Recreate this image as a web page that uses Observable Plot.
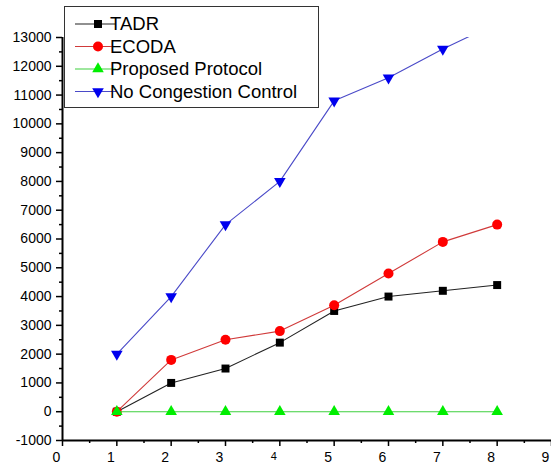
<!DOCTYPE html>
<html>
<head>
<meta charset="utf-8">
<script src="https://cdn.jsdelivr.net/npm/d3@7"></script>
<script src="https://cdn.jsdelivr.net/npm/@observablehq/plot@0.6"></script>
<style>
  body { margin: 0; background: #fff; }
  #wrap { position: relative; width: 551px; height: 471px; font-family: "Liberation Sans", Arial, sans-serif; }
  #legend { position: absolute; left: 64px; top: 6px; }
</style>
</head>
<body>
<div id="wrap"></div>
<script>
// ---- data ----
const xValues = [1, 2, 3, 4, 5, 6, 7, 8];
const tadr = [0, 1000, 1500, 2400, 3500, 4000, 4200, 4400];
const ecoda = [0, 1800, 2500, 2800, 3700, 4800, 5900, 6500];
const proposed = [0, 0, 0, 0, 0, 0, 0, 0];
const noCongestion = [2000, 4000, 6500, 8000, 10800, 11600, 12600, 13500];
const seriesNames = ["TADR", "ECODA", "Proposed Protocol", "No Congestion Control"];
const xTicks = [0, 1, 2, 3, 4, 5, 6, 7, 8, 9];
const yTicks = [-1000, 0, 1000, 2000, 3000, 4000, 5000, 6000, 7000, 8000, 9000, 10000, 11000, 12000, 13000];

// ---- styles ----
const triangleDown = {
  draw(context, size) {
    const y = -Math.sqrt(size / (Math.sqrt(3) * 3));
    context.moveTo(0, -y * 2);
    context.lineTo(Math.sqrt(3) * y, y);
    context.lineTo(-Math.sqrt(3) * y, y);
    context.closePath();
  }
};
const styles = [
  {line: "#222222", fill: "#000000", symbol: "square", r: 4.5},
  {line: "#d03a3a", fill: "#ff0000", symbol: "circle", r: 5},
  {line: "#3fcf3f", fill: "#00ee00", symbol: "triangle", r: 4.3},
  {line: "#4a4ac8", fill: "#0000ee", symbol: triangleDown, r: 4.3}
];
const seriesValues = [tadr, ecoda, proposed, noCongestion];

const marks = [];
seriesValues.forEach((vals, i) => {
  const rows = xValues.map((x, j) => ({x, y: vals[j], series: seriesNames[i]}));
  const s = styles[i];
  marks.push(Plot.line(rows, {x: "x", y: "y", stroke: s.line, strokeWidth: 1.1, clip: true}));
  marks.push(Plot.dot(rows, {x: "x", y: "y", fill: s.fill, stroke: "none", symbol: s.symbol, r: s.r, clip: true}));
});

const minorX = d3.range(0.5, 9, 1);
const minorY = d3.range(-500, 13000, 1000);
const xLabelsMain = xTicks.filter(d => d !== 4);
const xLabelsSmall = xTicks.filter(d => d === 4);

const chart = Plot.plot({
  width: 551,
  height: 471,
  marginLeft: 62,
  marginRight: 0,
  marginTop: 37,
  marginBottom: 31,
  style: {fontFamily: "'Liberation Sans', Arial, sans-serif", fontSize: "14px", color: "#000", background: "#fff"},
  x: {domain: [0, 9]},
  y: {domain: [-1000, 13000]},
  marks: [
    Plot.axisY({ticks: yTicks, tickSize: 6, tickPadding: 5, tickFormat: d => String(d), label: null, stroke: "#000", strokeWidth: 1.5}),
    Plot.axisY({ticks: minorY, tickSize: 3, text: null, label: null, stroke: "#000", strokeWidth: 1.5}),
    Plot.axisX({ticks: xTicks, tickSize: 6, text: null, label: null, stroke: "#000", strokeWidth: 1.5}),
    Plot.axisX({ticks: xLabelsMain, tickSize: 0, tickPadding: 12, tickFormat: d => String(d), label: null, dx: -6}),
    Plot.axisX({ticks: xLabelsSmall, tickSize: 0, tickPadding: 12, tickFormat: d => String(d), label: null, dx: -6, fontSize: 11}),
    Plot.axisX({ticks: minorX, tickSize: 3, text: null, label: null, stroke: "#000", strokeWidth: 1.5}),
    Plot.ruleX([0], {stroke: "#000", strokeWidth: 2}),
    Plot.ruleY([-1000], {stroke: "#000", strokeWidth: 2}),
    ...marks
  ]
});
document.getElementById("wrap").appendChild(chart);

// ---- legend overlay ----
const lw = 255, lh = 102;
const leg = d3.select("#wrap").append("svg")
  .attr("id", "legend").attr("width", lw).attr("height", lh);
leg.append("rect").attr("x", 0.5).attr("y", 0.5).attr("width", lw - 1).attr("height", lh - 1)
  .attr("fill", "#fff").attr("stroke", "#333").attr("stroke-width", 1);
seriesNames.forEach((name, i) => {
  const cy = 18 + i * 22.5;
  const g = leg.append("g").attr("transform", `translate(0,${cy})`);
  g.append("line").attr("x1", 11).attr("x2", 52).attr("y1", 0).attr("y2", 0)
    .attr("stroke", styles[i].line).attr("stroke-width", 1.1);
  const sym = typeof styles[i].symbol === "string"
    ? {square: d3.symbolSquare, circle: d3.symbolCircle, triangle: d3.symbolTriangle}[styles[i].symbol]
    : styles[i].symbol;
  g.append("path").attr("transform", "translate(34,0)")
    .attr("d", d3.symbol(sym, Math.PI * styles[i].r * styles[i].r)())
    .attr("fill", styles[i].fill);
  g.append("text").attr("x", 46).attr("y", 0).attr("dy", "0.35em")
    .attr("font-size", 18.5).attr("font-family", "'Liberation Sans', Arial, sans-serif")
    .attr("fill", "#000").text(name);
});
</script>
</body>
</html>
